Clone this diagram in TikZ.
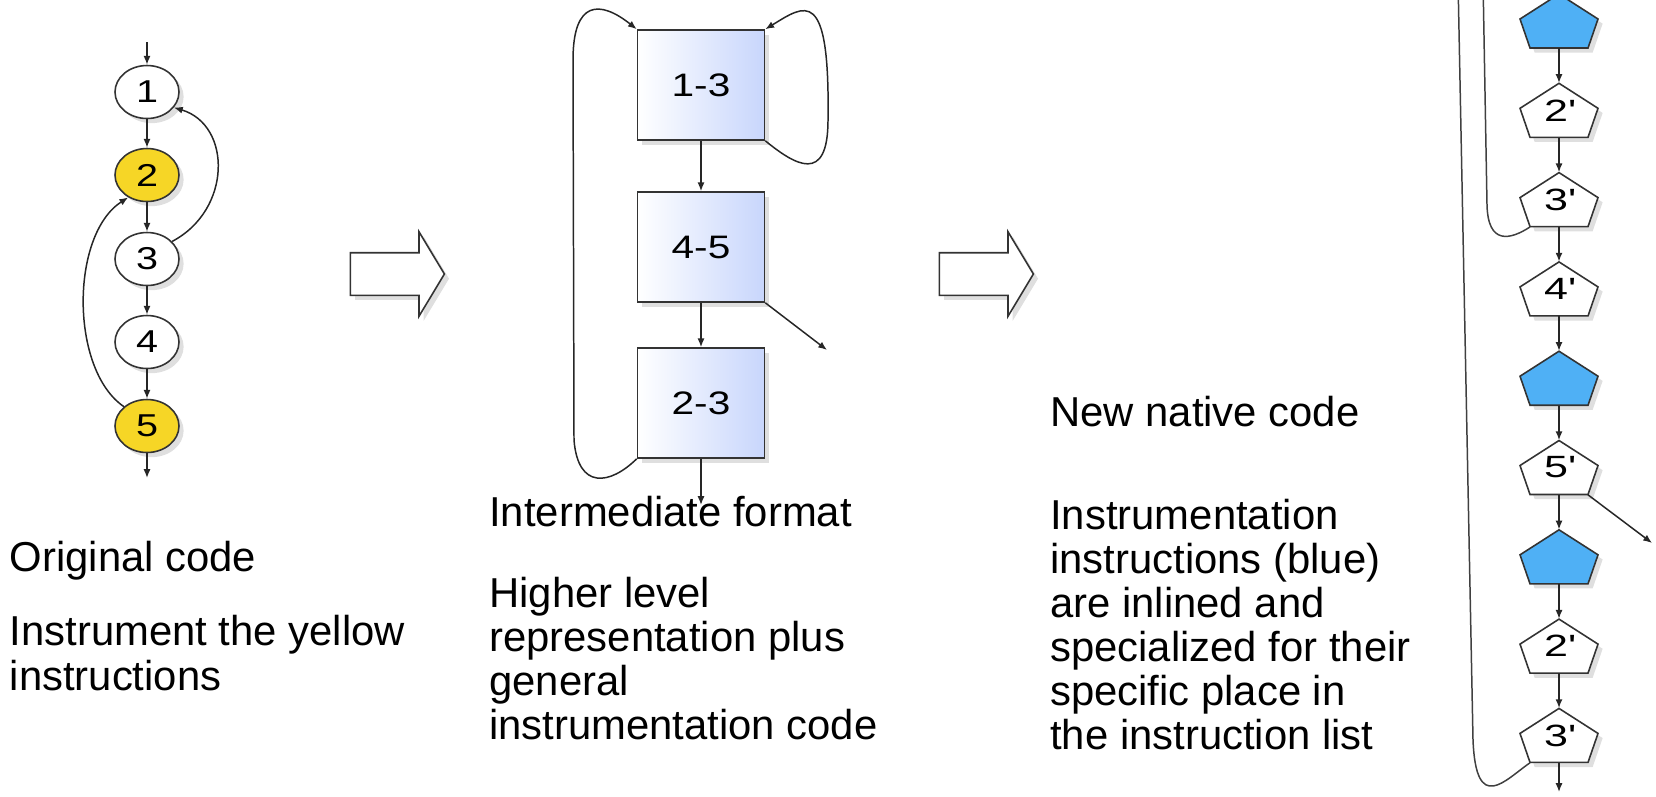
\documentclass[tikz,border=0pt]{standalone}
\usepackage{fontspec}
\setmainfont{Liberation Sans}
\newfontfamily\nodefont{Liberation Sans}[FakeStretch=1.25]
\newfontfamily\pentfont{Liberation Sans}[FakeStretch=1.4]
\usetikzlibrary{shapes.geometric, shapes.arrows, arrows.meta, positioning, calc, shadows}

\definecolor{hotyellow}{RGB}{246,214,38}
\definecolor{probeblue}{RGB}{79,176,245}
\definecolor{blockblue}{RGB}{200,214,252}

% pentagon of the native code: name, centre, fill, label
\newcommand{\pentnode}[4]{%
  \draw[pentline, fill=#3] (#2) +(0,-27) -- +(39,-2) -- +(29,27) -- +(-29,27) -- +(-39,-2) -- cycle;
  \node[pentbox] (#1) at (#2) {#4};}

\begin{document}
\begin{tikzpicture}[x=0.02cm, y=-0.02cm, >={Latex[length=5pt,width=4pt]},
    font=\fontsize{23.8}{25.1}\selectfont,
    codenode/.style={ellipse, draw=black!80, line width=0.9pt, fill=white, minimum width=1.28cm, minimum height=1.06cm, inner sep=0pt, font=\nodefont\fontsize{18}{20}\selectfont, drop shadow={opacity=0.25}},
    hotnode/.style={codenode, fill=hotyellow},
    blk/.style={draw=black!80, line width=0.9pt, left color=white, right color=blockblue, minimum width=2.54cm, minimum height=2.2cm, inner sep=0pt, font=\nodefont\fontsize{18.5}{20}\selectfont, drop shadow={opacity=0.25}},
    pentline/.style={draw=black!80, line width=0.9pt, drop shadow={opacity=0.25}},
    pentbox/.style={minimum width=1.56cm, minimum height=1.08cm, inner sep=0pt, font=\pentfont\fontsize{17.5}{20}\selectfont},
    flow/.style={->, line width=0.85pt, draw=black!85},
    loopline/.style={line width=0.85pt, draw=black!75},
    fatarrow/.style={single arrow, draw=black!80, line width=0.9pt, fill=white, minimum height=1.88cm, minimum width=1.66cm, text height=0.41cm, text depth=0.41cm, single arrow head extend=0.42cm, single arrow tip angle=118, inner sep=0pt, drop shadow={opacity=0.25}},
    txt/.style={anchor=base west, align=left, inner sep=0pt}
]
    \clip (0,0) rectangle (1656,796);

    % original code
    \coordinate (in1) at (147,42);
    \coordinate (out5) at (147,478);
    \node[codenode] (c1) at (147,92) {1};
    \node[hotnode] (c2) at (147,175) {2};
    \node[codenode] (c3) at (147,259) {3};
    \node[codenode] (c4) at (147,342) {4};
    \node[hotnode] (c5) at (147,426) {5};
    \draw[flow] (in1) -- (c1);
    \draw[flow] (c1) -- (c2);
    \draw[flow] (c2) -- (c3);
    \draw[flow] (c3) -- (c4);
    \draw[flow] (c4) -- (c5);
    \draw[flow] (c5) -- (out5);
    \draw[flow] (c3.35) .. controls (232,210) and (232,125) .. (c1.-30);
    \draw[flow] (c5.140) .. controls (70,370) and (70,235) .. (c2.-130);

    \node[fatarrow] (arr1) at (391,274) {};

    % intermediate format
    \node[blk] (b13) at (701,85) {1-3};
    \node[blk] (b45) at (701,247) {4-5};
    \node[blk] (b23) at (701,403) {2-3};
    \coordinate (out23) at (701,505);
    \coordinate (exit45) at (827,350);
    \draw[flow] (b13) -- (b45);
    \draw[flow] (b45) -- (b23);
    \draw[flow] (b23) -- (out23);
    \draw[flow] (b45.south east) -- (exit45);
    \draw[flow] (b13.south east) .. controls (795,165) and (828,185) .. (828,120)
        .. controls (830,-15) and (805,5) .. (b13.north east);
    \draw[flow] (b23.south west) .. controls (610,485) and (578,490) .. (574,440)
        -- (573,60) .. controls (573,0) and (600,0) .. (b13.north west);

    \node[fatarrow] (arr2) at (980,274) {};

    % new native code
    \pentnode{q0}{1559,21}{probeblue}{}
    \pentnode{q1}{1559,110.3}{white}{2\textquotesingle}
    \pentnode{q2}{1559,199.6}{white}{3\textquotesingle}
    \pentnode{q3}{1559,288.9}{white}{4\textquotesingle}
    \pentnode{q4}{1559,378.2}{probeblue}{}
    \pentnode{q5}{1559,467.5}{white}{5\textquotesingle}
    \pentnode{q6}{1559,556.8}{probeblue}{}
    \pentnode{q7}{1559,646.1}{white}{2\textquotesingle}
    \pentnode{q8}{1559,735.4}{white}{3\textquotesingle}
    \coordinate (out8) at (1559,792);
    \coordinate (exit5) at (1652,543);
    \coordinate (looptop) at (1483,-20);
    \coordinate (outertop) at (1458,-20);
    \draw[flow] (q0) -- (q1);
    \draw[flow] (q1) -- (q2);
    \draw[flow] (q2) -- (q3);
    \draw[flow] (q3) -- (q4);
    \draw[flow] (q4) -- (q5);
    \draw[flow] (q5) -- (q6);
    \draw[flow] (q6) -- (q7);
    \draw[flow] (q7) -- (q8);
    \draw[flow] (q8) -- (out8);
    \draw[flow] ($(q5.south)+(29,0)$) -- (exit5);
    \draw[loopline] ($(q2.south)+(-29,0)$) .. controls (1510,240) and (1488,245) .. (1487,205) -- (looptop);
    \draw[loopline] ($(q8.south)+(-29,0)$) .. controls (1505,780) and (1476,815) .. (1473,740) -- (outertop);

    % captions (base = last line)
    \node[txt] (t1) at (9.5,571.7) {Original code};
    \node[txt] (t2) at (9.5,690) {Instrument the yellow\\instructions};
    \node[txt] (t3) at (489,526.7) {Intermediate format};
    \node[txt] (t4) at (489,739.6) {Higher level\\representation plus\\general\\instrumentation code};
    \node[txt] (t5) at (1050,426.7) {New native code};
    \node[txt] (t6) at (1050,749.5) {Instrumentation\\instructions (blue)\\are inlined and\\specialized for their\\specific place in\\the instruction list};
\end{tikzpicture}
\end{document}
